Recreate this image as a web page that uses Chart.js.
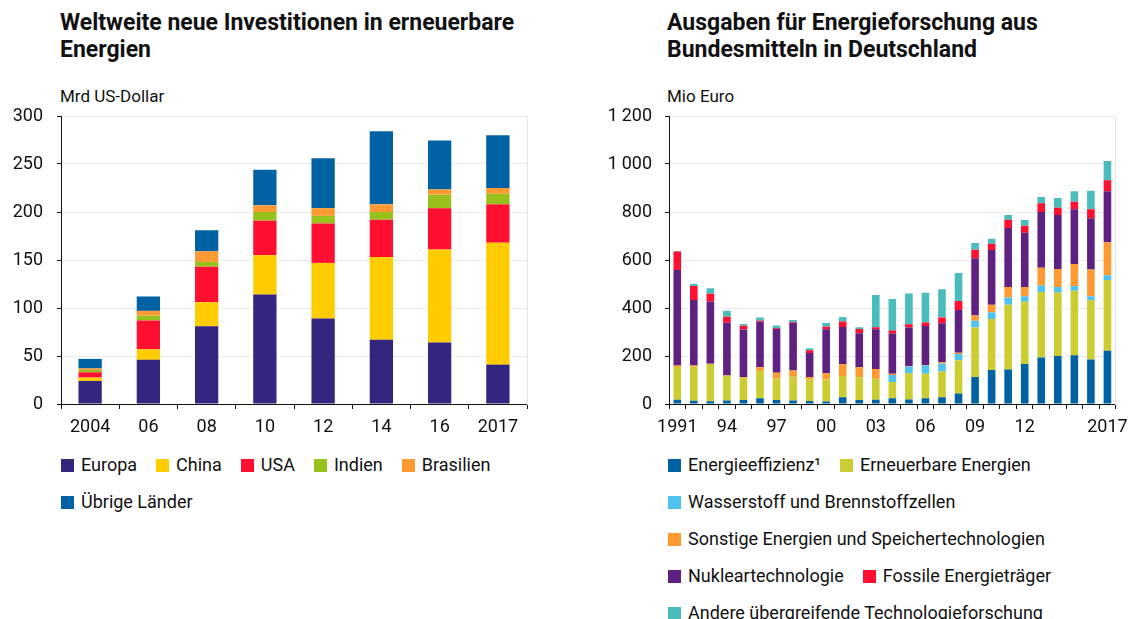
<!DOCTYPE html>
<html lang="de">
<head>
<meta charset="utf-8">
<script src="https://cdn.jsdelivr.net/npm/chart.js@4.4.0/dist/chart.umd.min.js"></script>
<style>
  body { margin: 0; width: 1136px; height: 619px; background: #fff; font-family: Roboto, sans-serif; color: #111; overflow: hidden; position: relative; }
  .title { position: absolute; font-weight: 700; font-size: 23px; line-height: 27px; }
  .unit { position: absolute; font-size: 17px; line-height: 20px; }
  .chartbox { position: absolute; }
  .legend-row { position: absolute; display: flex; align-items: center; font-size: 18px; line-height: 20px; white-space: nowrap; }
  .item { display: flex; align-items: center; margin-right: 19px; }
  .swatch { width: 13px; height: 13px; margin-right: 7px; }
</style>
</head>
<body>

<div class="title" style="left:60px; top:9px;">Weltweite neue Investitionen in erneuerbare<br>Energien</div>
<div class="unit" style="left:60px; top:86px;">Mrd US-Dollar</div>
<div class="chartbox" style="left:0; top:100px;"><canvas id="leftChart" width="545" height="345"></canvas></div>
<div id="leftLegend"></div>

<div class="title" style="left:667px; top:9px;">Ausgaben für Energieforschung aus<br>Bundesmitteln in Deutschland</div>
<div class="unit" style="left:667px; top:86px;">Mio Euro</div>
<div class="chartbox" style="left:590px; top:100px;"><canvas id="rightChart" width="546" height="345"></canvas></div>
<div id="rightLegend"></div>

<script>
// --- Weltweite Investitionen (Mrd US-Dollar) ---
const leftYears = ['2004', '06', '08', '10', '12', '14', '16', '2017'];
const europa    = [24, 46, 81, 114, 89, 67, 64, 41];
const china     = [3.5, 11, 25, 41, 58, 86, 97, 127];
const usa       = [5.5, 30, 37, 36, 41, 39, 43, 40];
const indien    = [2.5, 5, 5, 9, 8, 8, 14, 11];
const brasilien = [1.5, 5, 11, 7, 8, 8, 5.5, 6];
const uebrige   = [10, 15, 22, 37, 52, 76, 51, 55];
const leftYTicks = [0, 50, 100, 150, 200, 250, 300];

// --- Energieforschung Bund (Mio Euro) ---
const rightYears = ['1991', '1992', '1993', '1994', '1995', '1996', '1997', '1998', '1999', '2000',
  '2001', '2002', '2003', '2004', '2005', '2006', '2007', '2008', '2009', '2010',
  '2011', '2012', '2013', '2014', '2015', '2016', '2017'];
const rightXLabels = ['1991', '', '', '94', '', '', '97', '', '', '00', '', '', '03', '', '', '06', '', '',
  '09', '', '', '12', '', '', '', '', '2017'];
const effizienz   = [18, 14, 11, 15, 17, 24, 17, 15, 13, 10, 28, 17, 18, 24, 19, 24, 28, 44, 113, 142, 144, 167, 194, 200, 203, 185, 222];
const erneuerbare = [136, 141, 156, 104, 92, 114, 89, 99, 90, 92, 89, 94, 87, 68, 109, 102, 107, 138, 206, 212, 270, 259, 273, 265, 269, 247, 295];
const wasserstoff = [0, 0, 0, 0, 0, 0, 0, 0, 0, 0, 0, 0, 0, 29, 28, 34, 34, 26, 28, 28, 30, 23, 27, 23, 20, 17, 19];
const sonstige    = [6, 5, 1, 0, 3, 15, 24, 26, 9, 26, 49, 42, 41, 5, 2, 3, 6, 6, 22, 32, 44, 39, 74, 75, 91, 111, 138];
const nuklear     = [398, 273, 258, 220, 198, 191, 184, 198, 101, 183, 155, 142, 165, 168, 161, 162, 161, 178, 238, 228, 245, 226, 232, 225, 228, 214, 212];
const fossile     = [77, 59, 33, 25, 16, 4, 3, 3, 11, 11, 23, 17, 9, 12, 13, 15, 24, 37, 36, 26, 35, 29, 36, 30, 32, 37, 46];
const andere      = [2, 8, 23, 25, 7, 12, 10, 9, 8, 15, 18, 8, 134, 132, 128, 124, 118, 117, 28, 21, 20, 24, 27, 40, 43, 78, 81];
const rightYTicks = [0, 200, 400, 600, 800, 1000, 1200];

Chart.defaults.font.family = 'Roboto, sans-serif';
Chart.defaults.color = '#111';

function fmt(v) {
  // Tausendertrennzeichen als Leerzeichen
  return String(v).replace(/\B(?=(\d{3})+(?!\d))/g, '\u2009');
}

function barOptions(yMax, yStep, yWidth, labelPad, xLabels) {
  return {
    responsive: false,
    animation: false,
    layout: { padding: { top: 16, right: 18 } },
    plugins: { legend: { display: false }, tooltip: { enabled: false } },
    scales: {
      x: {
        stacked: true,
        grid: { offset: true, drawOnChartArea: false, tickColor: '#111', tickLength: 5 },
        border: { color: '#111' },
        ticks: {
          autoSkip: false, maxRotation: 0, padding: 8,
          font: { size: 18 },
          callback: function (val, i) { return xLabels[i]; }
        },
        afterFit: function (s) { s.height = 41; }
      },
      y: {
        stacked: true,
        min: 0, max: yMax,
        grid: { color: '#ebebeb', tickColor: '#111', tickLength: 4 },
        border: { color: '#111' },
        ticks: { stepSize: yStep, padding: labelPad, font: { size: 18 }, callback: function (v) { return fmt(v); } },
        afterFit: function (s) {
          s.width = yWidth;
          // Tick-Padding nur horizontal, nicht oben/unten
          s.paddingTop = 0;
          s.paddingBottom = 0;
        }
      },
      yr: {
        position: 'right',
        grid: { display: false },
        ticks: { display: false },
        border: { color: '#e4e4e4' },
        afterFit: function (s) { s.width = 0; s.paddingTop = 0; s.paddingBottom = 0; }
      }
    }
  };
}

function ds(label, data, color, pct) {
  return { label: label, data: data, backgroundColor: color, borderWidth: 0, barPercentage: pct, categoryPercentage: 1 };
}

const leftSets = [
  ds('Europa', europa, '#32267f', 0.4),
  ds('China', china, '#ffcc00', 0.4),
  ds('USA', usa, '#ff1030', 0.4),
  ds('Indien', indien, '#99c11c', 0.4),
  ds('Brasilien', brasilien, '#ff9a33', 0.4),
  ds('Übrige Länder', uebrige, '#0062a3', 0.4)
];

const rightSets = [
  ds('Energieeffizienz\u00b9', effizienz, '#0062a3', 0.46),
  ds('Erneuerbare Energien', erneuerbare, '#cccc33', 0.46),
  ds('Wasserstoff und Brennstoffzellen', wasserstoff, '#4fc3ef', 0.46),
  ds('Sonstige Energien und Speichertechnologien', sonstige, '#ff9a33', 0.46),
  ds('Nukleartechnologie', nuklear, '#5f2181', 0.46),
  ds('Fossile Energieträger', fossile, '#ff1030', 0.46),
  ds('Andere übergreifende Technologieforschung', andere, '#4bbcbc', 0.46)
];

new Chart(document.getElementById('leftChart'), {
  type: 'bar',
  data: { labels: leftYears, datasets: leftSets },
  options: barOptions(leftYTicks[leftYTicks.length - 1], leftYTicks[1] - leftYTicks[0], 61, 14, leftYears)
});

new Chart(document.getElementById('rightChart'), {
  type: 'bar',
  data: { labels: rightYears, datasets: rightSets },
  options: barOptions(rightYTicks[rightYTicks.length - 1], rightYTicks[1] - rightYTicks[0], 79, 13, rightXLabels)
});

// Legenden als HTML
function buildLegend(el, sets, rows, left) {
  rows.forEach(function (row, r) {
    const div = document.createElement('div');
    div.className = 'legend-row';
    div.style.left = left + 'px';
    div.style.top = (455 + r * 37) + 'px';
    row.forEach(function (idx) {
      const it = document.createElement('div');
      it.className = 'item';
      const sw = document.createElement('span');
      sw.className = 'swatch';
      sw.style.background = sets[idx].backgroundColor;
      const tx = document.createElement('span');
      tx.textContent = sets[idx].label;
      it.appendChild(sw);
      it.appendChild(tx);
      div.appendChild(it);
    });
    el.appendChild(div);
  });
}
buildLegend(document.getElementById('leftLegend'), leftSets, [[0, 1, 2, 3, 4], [5]], 61);
buildLegend(document.getElementById('rightLegend'), rightSets, [[0, 1], [2], [3], [4, 5], [6]], 668);
</script>
</body>
</html>
